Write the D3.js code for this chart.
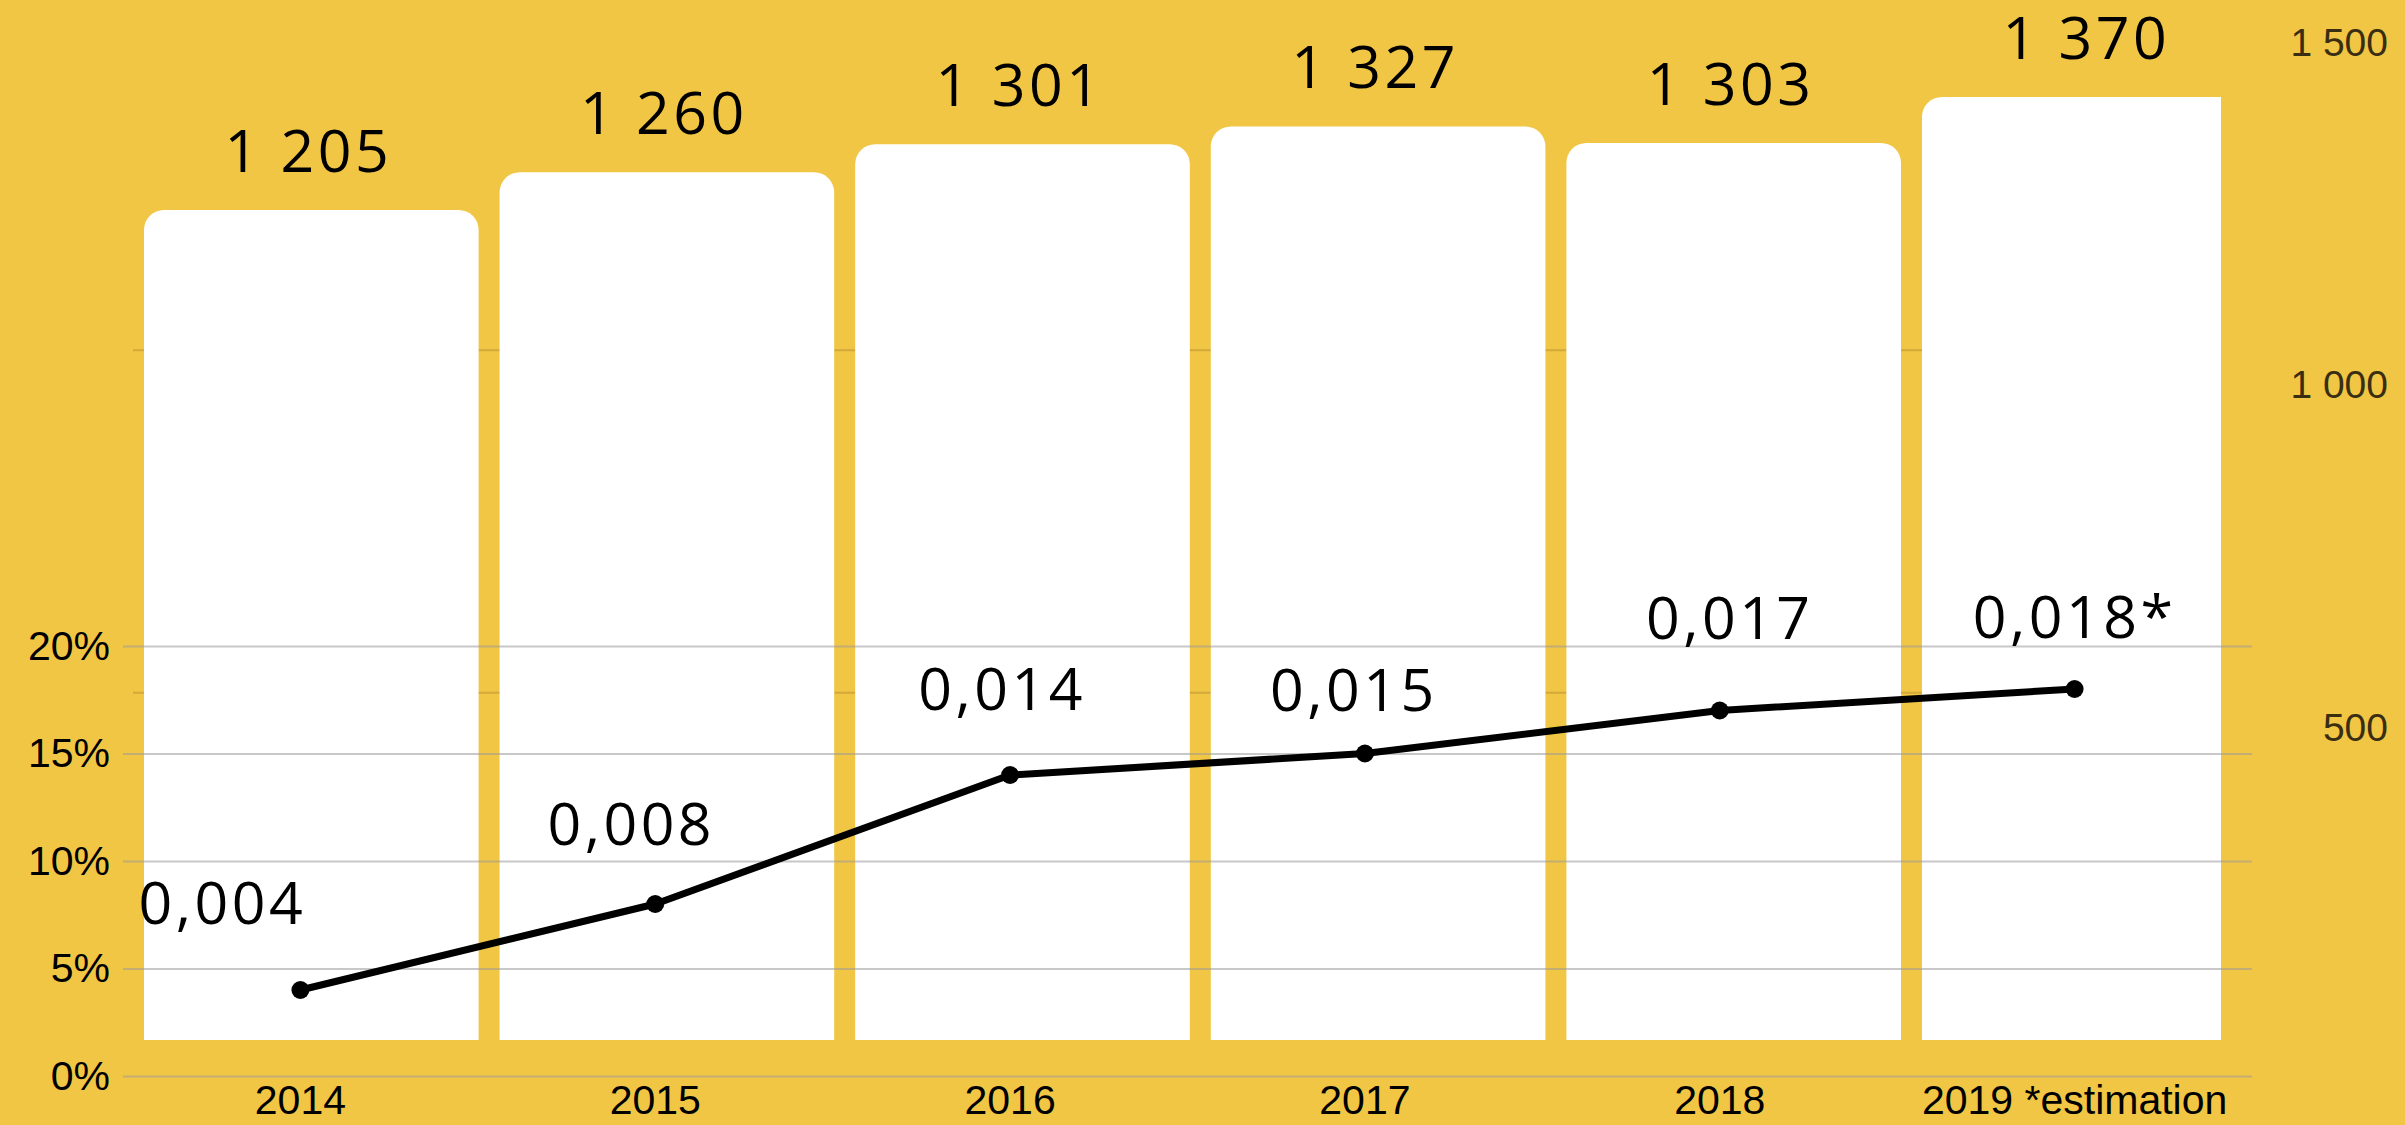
<!doctype html>
<html>
<head>
  <meta charset="utf-8">
  <title>2014-2019</title>
  <style>
    html, body { margin: 0; padding: 0; background: #F1C644; }
    svg { display: block; }
    .axis-left text, .axis-bottom text { font-family: 'Liberation Sans', Arial, sans-serif; font-size: 41px; fill: #000; }
    .axis-right text { font-family: 'Liberation Sans', Arial, sans-serif; font-size: 39px; fill: #3a2e12; }
    .value-label { font-family: 'Open Sans', sans-serif; font-weight: 400; font-size: 59px; letter-spacing: 3.5px; fill: #000; }
  </style>
</head>
<body>
  <div id="chart"></div>
  <script src="https://cdnjs.cloudflare.com/ajax/libs/d3/7.8.5/d3.min.js"></script>
  <script>
    // data
    var years = ["2014", "2015", "2016", "2017", "2018", "2019"];
    var yearLabels = ["2014", "2015", "2016", "2017", "2018", "2019 *estimation"];
    var totals = [1205, 1260, 1301, 1327, 1303, 1370];
    var shares = [0.04, 0.08, 0.14, 0.15, 0.17, 0.18];
    var shareLabels = ["0,004", "0,008", "0,014", "0,015", "0,017", "0,018*"];
    var pctTicks = [0, 0.05, 0.10, 0.15, 0.20];
    var totalTicks = [500, 1000, 1500];

    // hand placed label nudges (dx, dy from the point)
    var labelNudge = [[-78, -66], [-24, -59], [-8, -65], [-11, -43], [10, -72], [0, -51]];

    var width = 2405, height = 1125;
    var fmt = d3.formatLocale({ decimal: ",", thousands: " ", grouping: [3], currency: ["", ""] }).format(",d");

    var svg = d3.select("#chart").append("svg").attr("width", width).attr("height", height);
    svg.append("rect").attr("width", width).attr("height", height).attr("fill", "#F1C644");

    //******************
    // bars (totals)
    //******************
    var xBar = d3.scaleBand().domain(years).range([144, 2256.6]).paddingInner(0.059).paddingOuter(0);
    var yBar = d3.scaleLinear().domain([0, 1500]).range([1035, 8]);
    var barBottom = yBar(0) + 5;
    var radius = 20;

    svg.append("clipPath").attr("id", "barclip")
      .append("rect").attr("x", 0).attr("y", 0).attr("width", 2221).attr("height", height);

    var barG = svg.append("g").attr("clip-path", "url(#barclip)");

    barG.selectAll(".bar-grid")
      .data([500, 1000])
      .join("line")
      .attr("class", "bar-grid")
      .attr("x1", 133).attr("x2", 2221)
      .attr("y1", d => yBar(d)).attr("y2", d => yBar(d))
      .attr("stroke", "#d2a93a")
      .attr("stroke-width", 2);

    barG.selectAll(".bar")
      .data(totals)
      .join("path")
      .attr("class", "bar")
      .attr("fill", "#fff")
      .attr("d", (d, i) => {
        var x0 = xBar(years[i]), x1 = x0 + xBar.bandwidth(), y0 = yBar(d), r = radius;
        return "M" + x0 + "," + barBottom +
          "V" + (y0 + r) +
          "A" + r + "," + r + " 0 0 1 " + (x0 + r) + "," + y0 +
          "H" + (x1 - r) +
          "A" + r + "," + r + " 0 0 1 " + x1 + "," + (y0 + r) +
          "V" + barBottom + "Z";
      });

    svg.selectAll(".bar-label")
      .data(totals)
      .join("text")
      .attr("class", "value-label bar-label")
      .attr("text-anchor", "middle")
      .attr("x", (d, i) => xBar(years[i]) + xBar.bandwidth() / 2 - 3)
      .attr("y", d => yBar(d) - 38)
      .text(d => fmt(d));

    // right axis (totals)
    svg.append("g")
      .attr("class", "axis-right")
      .selectAll("text")
      .data(totalTicks)
      .join("text")
      .attr("text-anchor", "end")
      .attr("x", 2388)
      .attr("y", d => yBar(d) + 48)
      .text(d => fmt(d));

    //******************
    // line (shares)
    //******************
    var xLine = d3.scaleBand().domain(years).range([123, 2252]);
    var yPct = d3.scaleLinear().domain([0, 0.20]).range([1076, 646]);
    var cx = d => xLine(d) + xLine.bandwidth() / 2;

    svg.append("g")
      .attr("class", "axis-left")
      .attr("transform", "translate(123,0)")
      .call(d3.axisLeft(yPct).tickValues(pctTicks).tickFormat(d3.format(".0%")).tickSize(-(2252 - 123)).tickPadding(13))
      .call(g => g.select(".domain").remove())
      .call(g => g.selectAll(".tick line").attr("stroke", "#9a9a9a").attr("stroke-opacity", 0.55).attr("stroke-width", 2));

    svg.append("g")
      .attr("class", "axis-bottom")
      .attr("transform", "translate(0,1076)")
      .call(d3.axisBottom(xLine).tickSize(0).tickPadding(0).tickFormat((d, i) => yearLabels[i]))
      .call(g => g.select(".domain").remove())
      .call(g => g.selectAll(".tick text").attr("y", 38).attr("dy", 0));

    var line = d3.line()
      .x((d, i) => cx(years[i]))
      .y(d => yPct(d));

    svg.append("path")
      .datum(shares)
      .attr("fill", "none")
      .attr("stroke", "#000")
      .attr("stroke-width", 7)
      .attr("stroke-linejoin", "round")
      .attr("d", line);

    svg.selectAll(".dot")
      .data(shares)
      .join("circle")
      .attr("class", "dot")
      .attr("cx", (d, i) => cx(years[i]))
      .attr("cy", d => yPct(d))
      .attr("r", 9)
      .attr("fill", "#000");

    svg.selectAll(".share-label")
      .data(shares)
      .join("text")
      .attr("class", "value-label share-label")
      .attr("text-anchor", "middle")
      .attr("x", (d, i) => cx(years[i]) + labelNudge[i][0])
      .attr("y", (d, i) => yPct(d) + labelNudge[i][1])
      .text((d, i) => shareLabels[i]);
  </script>
</body>
</html>
